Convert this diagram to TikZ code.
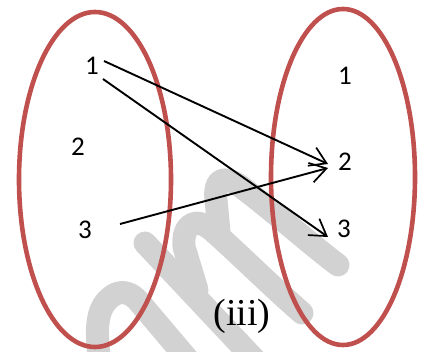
\documentclass[tikz,border=0pt]{standalone}
\usepackage{fontspec}
\setmainfont{Carlito}
\newfontfamily\timesf{Liberation Serif}
\usetikzlibrary{arrows.meta}
\definecolor{ringred}{HTML}{C0504D}
\definecolor{wmgray}{HTML}{D2D2D2}
\tikzset{
  setring/.style={draw=ringred,line width=4.6pt},
  wmark/.style={draw=wmgray,line width=23pt,line cap=round,line join=round},
  elem/.style={inner sep=0pt,font=\fontsize{27}{27}\selectfont,text=black},
  mapto/.style={draw=black,line width=1.9pt,-{Straight Barb[length=16pt,width=20pt,line width=1.7pt]}},
}
\begin{document}
\begin{tikzpicture}[x=1pt,y=-1pt]
\useasboundingbox (0,0) rectangle (435,352);
\begin{scope}
\clip (0,0) rectangle (435,352);
\draw[wmark] (338,265) .. controls (305,240) and (270,208) .. (240,186) .. controls (222,174) and (214,180) .. (216,200) -- (219,232);
\draw[wmark] (302,313) .. controls (270,285) and (240,255) .. (213,231) .. controls (195,215) and (182,225) .. (184,247) -- (197,290);
\draw[wmark] (145,243) -- (255,360);
\draw[wmark] (190,362) -- (140,303) .. controls (128,288) and (115,290) .. (105,303) .. controls (96,315) and (96,335) .. (100,362);
\end{scope}
\draw[setring] (95,179.5) ellipse [x radius=76,y radius=167.5];
\draw[setring] (343,177) ellipse [x radius=72,y radius=168];
\node[elem] (a1) at (92,66) {1};
\node[elem] (a2) at (78,147) {2};
\node[elem] (a3) at (85,230) {3};
\node[elem] (b1) at (345,76) {1};
\node[elem] (b2) at (345,162) {2};
\node[elem] (b3) at (344,229) {3};
\coordinate (s1a) at (104,61);
\coordinate (s1b) at (103,79);
\coordinate (s3) at (120,224);
\coordinate (t2a) at (328,164);
\coordinate (t2b) at (328,168);
\coordinate (t3) at (328,237);
\draw[mapto] (s1a) -- (t2a);
\draw[mapto] (s1b) -- (t3);
\draw[mapto] (s3) -- (t2b);
\node[inner sep=0pt,font=\timesf\fontsize{38}{38}\selectfont] (cap) at (242,316) {(iii)};
\end{tikzpicture}
\end{document}
